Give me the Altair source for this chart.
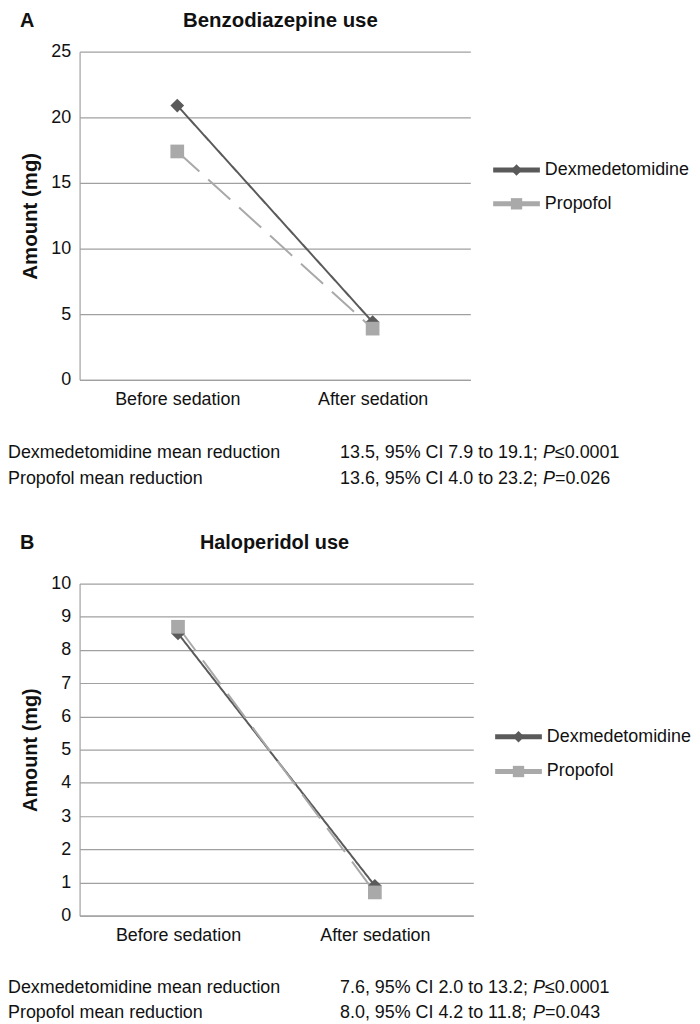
import altair as alt
import pandas as pd

# ---------------- data ----------------
categories = ["Before sedation", "After sedation"]
series_names = ["Dexmedetomidine", "Propofol"]

benzo_dex = [20.9, 4.4]
benzo_prop = [17.4, 3.9]
halo_dex = [8.5, 0.9]
halo_prop = [8.7, 0.7]

benzo_ticks = [0, 5, 10, 15, 20, 25]
halo_ticks = [0, 1, 2, 3, 4, 5, 6, 7, 8, 9, 10]

stats_labels = ["Dexmedetomidine mean reduction", "Propofol mean reduction"]
benzo_stats_pre = ["13.5, 95% CI 7.9 to 19.1; ", "13.6, 95% CI 4.0 to 23.2; "]
benzo_stats_p = ["\u22640.0001", "=0.026"]
halo_stats_pre = ["7.6, 95% CI 2.0 to 13.2; ", "8.0, 95% CI 4.2 to 11.8; "]
halo_stats_p = ["\u22640.0001", "=0.043"]

# ---------------- style ----------------
DARK = "#5a5a5a"
LIGHT = "#a9a9a9"
GRID = "#a0a0a0"
FONT = "Liberation Sans"
TXT = "#111111"

# Arial / Liberation Sans advance widths (per 1000 em) for the stats prefix
ADV = {**{d: 556 for d in "0123456789"}, ".": 278, ",": 278, " ": 278, "%": 889,
       "C": 722, "I": 278, "t": 278, "o": 556, ";": 278}


def text_width(s, size):
    return sum(ADV.get(c, 556) for c in s) * size / 1000.0


one_row = pd.DataFrame({"k": [0]})


def panel(letter, title, dex, prop, ticks, ymax, w, h, title_x, title_top,
          big_size, stats_pre, stats_p, stats_y, legend_x, legend_y):
    df = pd.DataFrame({
        "period": categories * 2,
        "series": [series_names[0]] * 2 + [series_names[1]] * 2,
        "amount": dex + prop,
    })
    x = alt.X("period:N", sort=categories,
              scale=alt.Scale(type="point", domain=categories, padding=0.5),
              axis=alt.Axis(title=None, labelAngle=0, labelFontSize=18, labelFont=FONT,
                            labelColor=TXT, ticks=False, domainColor=GRID, domainWidth=1.2,
                            labelPadding=11, grid=False))
    y = alt.Y("amount:Q", scale=alt.Scale(domain=[0, ymax], nice=False, zero=True),
              axis=alt.Axis(values=ticks, format="d", title="Amount (mg)",
                            titleFontSize=big_size, titleFont=FONT, titleFontWeight="bold",
                            titleColor=TXT, titleX=-43, titleY=h / 2, titleAngle=270,
                            titleBaseline="alphabetic", titleAlign="center",
                            labelFontSize=18, labelFont=FONT, labelColor=TXT,
                            ticks=False, labelPadding=9, gridColor=GRID, gridWidth=1.2,
                            domainColor=GRID, domainWidth=1.2))
    color = alt.Color("series:N", scale=alt.Scale(domain=series_names, range=[DARK, LIGHT]),
                      legend=None)
    dash = alt.StrokeDash("series:N",
                          scale=alt.Scale(domain=series_names, range=[[1, 0], [30, 12]]),
                          legend=None)
    shape = alt.Shape("series:N",
                      scale=alt.Scale(domain=series_names, range=["diamond", "square"]),
                      legend=None)
    base = alt.Chart(df)
    lines = base.mark_line(strokeWidth=2).encode(x=x, y=y, color=color, strokeDash=dash)
    points = base.mark_point(filled=True, size=190, opacity=1).encode(
        x=x, y=y, color=color, shape=shape)

    layers = [lines, points]

    # panel letter and title
    layers.append(alt.Chart(one_row).mark_text(
        text=letter, align="left", baseline="top", fontSize=20, fontWeight="bold",
        font=FONT, color=TXT).encode(x=alt.value(-60), y=alt.value(title_top)))
    layers.append(alt.Chart(one_row).mark_text(
        text=title, align="center", baseline="top", fontSize=big_size, fontWeight="bold",
        font=FONT, color=TXT).encode(x=alt.value(title_x), y=alt.value(title_top)))

    # legend (line + marker + label)
    shapes = ["diamond", "square"]
    colors = [DARK, LIGHT]
    for i, name in enumerate(series_names):
        ly = legend_y[i]
        layers.append(alt.Chart(one_row).mark_rule(color=colors[i], strokeWidth=5).encode(
            x=alt.value(legend_x), x2=alt.value(legend_x + 47), y=alt.value(ly)))
        layers.append(alt.Chart(one_row).mark_point(
            filled=True, shape=shapes[i], size=130, color=colors[i], opacity=1).encode(
            x=alt.value(legend_x + 23.5), y=alt.value(ly)))
        layers.append(alt.Chart(pd.DataFrame({"name": [name]})).mark_text(
            align="left", baseline="middle", fontSize=18, font=FONT, color=TXT).encode(
            x=alt.value(legend_x + 52), y=alt.value(ly), text="name:N"))

    # statistics rows under the chart
    left_x = -72
    right_x = 262
    for i in range(2):
        sy = stats_y[i]
        row = pd.DataFrame({"label": [stats_labels[i]], "pre": [stats_pre[i]],
                            "p": [stats_p[i]]})
        c = alt.Chart(row)
        common = dict(baseline="middle", fontSize=18, font=FONT, color=TXT)
        layers.append(c.mark_text(align="left", **common).encode(
            x=alt.value(left_x), y=alt.value(sy), text="label:N"))
        layers.append(c.mark_text(align="left", **common).encode(
            x=alt.value(right_x), y=alt.value(sy), text="pre:N"))
        px = right_x + text_width(stats_pre[i], 18)
        layers.append(alt.Chart(one_row).mark_text(
            text="P", align="left", fontStyle="italic", **common).encode(
            x=alt.value(px), y=alt.value(sy)))
        layers.append(c.mark_text(align="left", **common).encode(
            x=alt.value(px + 12.0), y=alt.value(sy), text="p:N"))

    return alt.layer(*layers).properties(width=w, height=h)


chart_a = panel("A", "Benzodiazepine use", benzo_dex, benzo_prop, benzo_ticks, 25,
                393, 330, 202, -41, 20.5, benzo_stats_pre, benzo_stats_p,
                [404, 430], 416, [119, 153])
chart_b = panel("B", "Haloperidol use", halo_dex, halo_prop, halo_ticks, 10,
                396, 334, 196, -51, 20, halo_stats_pre, halo_stats_p,
                [407, 432], 418, [154, 189])

chart = alt.vconcat(chart_a, chart_b, spacing=45).properties(
    padding=0
).configure(font=FONT).configure_view(stroke=None)

chart.save("out.html", embed_options={"renderer": "svg", "actions": False})
